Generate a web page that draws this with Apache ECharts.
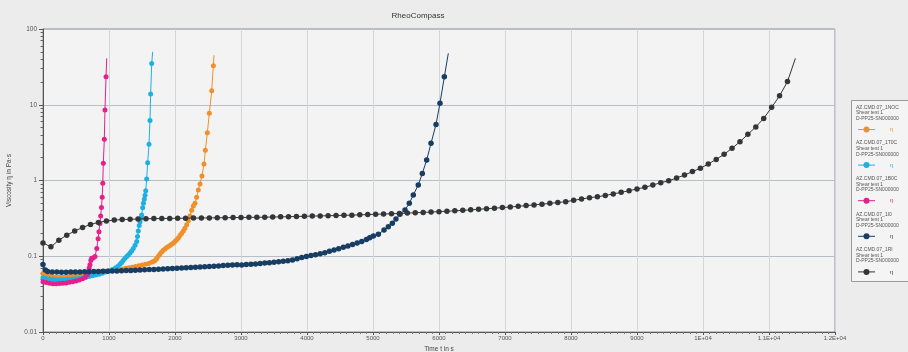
<!DOCTYPE html>
<html>
<head>
<meta charset="utf-8">
<title>RheoCompass</title>
<script src="https://cdn.jsdelivr.net/npm/echarts@6/dist/echarts.min.js"></script>
<style>
  html, body { margin: 0; padding: 0; background: #ececec; }
  #chart { width: 908px; height: 352px; }
</style>
</head>
<body>
<div id="chart"></div>
<script>
// Viscosity curves over time, [time in s, viscosity in Pa·s]
const orange = [
  [0,0.059],[50,0.056],[100,0.0545],[150,0.0535],[200,0.053],[250,0.053],[300,0.053],[350,0.0535],
  [400,0.054],[450,0.055],[500,0.0558],[550,0.0567],[600,0.0576],[650,0.0586],[700,0.0595],[750,0.0603],
  [800,0.061],[850,0.0619],[900,0.0627],[950,0.0636],[1000,0.0644],[1050,0.0653],[1100,0.0662],[1150,0.0671],
  [1200,0.0681],[1250,0.0692],[1300,0.0705],[1350,0.0718],[1400,0.0733],[1450,0.0749],[1500,0.0765],
  [1550,0.0782],[1600,0.08],[1646,0.0835],[1672,0.0855],[1697,0.088],[1722,0.093],[1747,0.1],[1772,0.107],
  [1798,0.114],[1823,0.12],[1848,0.125],[1874,0.13],[1899,0.134],[1924,0.139],[1949,0.144],[1975,0.15],
  [2000,0.157],[2025,0.165],[2050,0.174],[2076,0.188],[2100,0.2],[2126,0.215],[2151,0.234],[2177,0.26],
  [2202,0.295],[2227,0.34],[2253,0.405],[2277,0.46],[2303,0.5],[2328,0.6],[2353,0.75],[2379,0.9],
  [2409,1.15],[2439,1.65],[2460,2.5],[2490,4.27],[2520,7.7],[2556,15.3],[2581,32.8],[2591,45]
];
const cyan = [
  [0,0.052],[50,0.051],[100,0.05],[150,0.0495],[200,0.049],[250,0.049],[300,0.049],[350,0.0492],
  [400,0.0495],[450,0.05],[500,0.0505],[550,0.051],[600,0.052],[650,0.053],[700,0.054],[750,0.0552],
  [800,0.0565],[850,0.058],[900,0.0598],[950,0.0618],[1000,0.064],[1050,0.067],[1100,0.0705],[1140,0.0745],
  [1170,0.079],[1192,0.083],[1215,0.088],[1242,0.094],[1268,0.099],[1293,0.104],[1318,0.11],[1343,0.117],
  [1368,0.127],[1395,0.14],[1420,0.156],[1432,0.182],[1444,0.215],[1458,0.255],[1470,0.286],[1483,0.318],
  [1495,0.35],[1510,0.438],[1522,0.5],[1535,0.565],[1546,0.64],[1556,0.73],[1571,1.05],[1586,1.72],
  [1606,3.0],[1621,6.2],[1631,13.9],[1647,35],[1662,50]
];
const pink = [
  [0,0.046],[50,0.045],[100,0.044],[150,0.0435],[200,0.0435],[250,0.0437],[300,0.044],[350,0.0445],
  [400,0.0452],[450,0.046],[500,0.047],[550,0.0485],[600,0.0505],[640,0.053],[670,0.057],[687,0.0625],
  [700,0.07],[712,0.077],[725,0.088],[737,0.094],[760,0.095],[788,0.099],[815,0.127],[835,0.17],
  [848,0.211],[862,0.27],[874,0.34],[886,0.44],[897,0.6],[906,0.92],[914,1.69],[929,3.5],[939,8.5],
  [955,23.5],[965,41]
];
const navy = [
  [0,0.078],[35,0.066],[70,0.063],[140,0.062],[210,0.0618],[280,0.0617],[350,0.0617],[420,0.0618],
  [490,0.062],[560,0.0621],[630,0.0623],[700,0.0625],[770,0.0627],[840,0.063],[910,0.0632],[980,0.0635],
  [1050,0.0638],[1120,0.0641],[1190,0.0644],[1260,0.0647],[1330,0.065],[1400,0.0654],[1470,0.0658],
  [1540,0.0662],[1610,0.0666],[1680,0.067],[1750,0.0674],[1820,0.0678],[1890,0.0683],[1960,0.0688],
  [2030,0.0693],[2100,0.0698],[2170,0.0703],[2240,0.0709],[2310,0.0715],[2380,0.0721],[2450,0.0727],
  [2520,0.0733],[2590,0.074],[2660,0.0746],[2730,0.0753],[2800,0.076],[2870,0.0767],[2940,0.0775],
  [3010,0.0768],[3080,0.0776],[3150,0.0784],[3220,0.0793],[3290,0.0802],[3360,0.0812],[3430,0.0822],
  [3500,0.0833],[3570,0.0845],[3640,0.0857],[3710,0.087],[3780,0.0895],[3850,0.093],[3920,0.096],
  [3990,0.099],[4060,0.102],[4130,0.105],[4200,0.1075],[4270,0.111],[4340,0.116],[4410,0.121],
  [4480,0.126],[4550,0.131],[4620,0.137],[4690,0.143],[4760,0.15],[4830,0.157],[4900,0.167],
  [4950,0.176],[5005,0.185],[5081,0.195],[5167,0.222],[5232,0.245],[5293,0.272],[5348,0.31],
  [5409,0.358],[5485,0.408],[5550,0.5],[5611,0.644],[5686,0.873],[5747,1.24],[5813,1.86],[5879,3.1],
  [5955,5.5],[6015,10.5],[6081,23.4],[6141,47.7]
];
const gray = [
  [0,0.15],[120,0.133],[240,0.163],[360,0.19],[480,0.215],[600,0.24],[720,0.263],[840,0.28],
  [960,0.292],[1080,0.3],[1200,0.305],[1320,0.308],[1440,0.31],[1560,0.312],[1680,0.314],[1800,0.315],
  [1920,0.316],[2040,0.317],[2160,0.318],[2280,0.319],[2400,0.32],[2520,0.321],[2640,0.322],[2760,0.323],
  [2880,0.324],[3000,0.325],[3120,0.326],[3240,0.327],[3360,0.328],[3480,0.33],[3600,0.331],[3720,0.333],
  [3840,0.335],[3960,0.337],[4080,0.339],[4200,0.341],[4320,0.343],[4440,0.345],[4560,0.347],[4680,0.349],
  [4800,0.352],[4920,0.355],[5040,0.358],[5160,0.361],[5280,0.364],[5400,0.367],[5520,0.371],[5640,0.375],
  [5760,0.379],[5880,0.383],[6000,0.388],[6120,0.393],[6240,0.398],[6360,0.404],[6480,0.41],[6600,0.417],
  [6720,0.424],[6840,0.431],[6960,0.439],[7080,0.447],[7200,0.456],[7320,0.466],[7440,0.476],[7560,0.487],
  [7680,0.499],[7800,0.512],[7920,0.525],[8040,0.547],[8160,0.57],[8280,0.593],[8400,0.61],[8520,0.635],
  [8640,0.664],[8760,0.698],[8880,0.733],[9000,0.773],[9120,0.813],[9240,0.872],[9360,0.935],[9480,0.99],
  [9600,1.08],[9720,1.18],[9840,1.31],[9960,1.45],[10080,1.65],[10200,1.9],[10320,2.22],[10440,2.66],
  [10560,3.25],[10680,4.07],[10800,5.1],[10920,6.6],[11040,9.25],[11160,13.1],[11280,20.2],[11400,41]
];

const seriesData = [orange, cyan, pink, navy, gray];
const seriesColors = ['#f0902a', '#1fb0e2', '#e61f8c', '#173d63', '#333537'];
const sampleNames = ['AZ.CMD.07_1NOC', 'AZ.CMD.07_1T0C', 'AZ.CMD.07_1B0C', 'AZ.CMD.07_1I0', 'AZ.CMD.07_1RI'];
const testName = 'Shear test 1';
const systemName = 'D-PP25-SN000000';

// Axis ticks
const xTicks = [0,1000,2000,3000,4000,5000,6000,7000,8000,9000,10000,11000,12000];
const xTickLabels = ['0','1000','2000','3000','4000','5000','6000','7000','8000','9000','1E+04','1.1E+04','1.2E+04'];
const yMinorTicks = [
  0.02,0.03,0.04,0.05,0.06,0.07,0.08,0.09,
  0.2,0.3,0.4,0.5,0.6,0.7,0.8,0.9,
  2,3,4,5,6,7,8,9,
  20,30,40,50,60,70,80,90
];

const FONT = '"Liberation Sans", Arial, sans-serif';
const chart = echarts.init(document.getElementById('chart'), null, { renderer: 'canvas' });

const series = seriesData.map((pts, k) => ({
  type: 'line',
  name: sampleNames[k],
  // the final reading is drawn as line only
  data: pts.map((p, i) => i === pts.length - 1 ? { value: p, symbol: 'none' } : p),
  showSymbol: true,
  symbol: 'circle',
  symbolSize: k >= 3 ? 5.5 : 5,
  color: seriesColors[k],
  lineStyle: { width: 1, color: seriesColors[k] },
  itemStyle: { color: seriesColors[k] },
  animation: false,
  z: 2 + k
}));

// Legend panel on the right
const legendGraphics = [{
  type: 'rect', shape: { x: 851.5, y: 100.5, width: 70, height: 181 },
  style: { fill: '#f4f4f4', stroke: '#9a9a9a', lineWidth: 1 }, z: 10
}];
sampleNames.forEach((name, k) => {
  const y0 = 105 + k * 35.6;
  [name, testName, systemName].forEach((t, j) => {
    legendGraphics.push({
      type: 'text', x: 856, y: y0 + j * 5.6, z: 11,
      style: { text: t, fill: '#555', font: '5px ' + FONT, textVerticalAlign: 'top' }
    });
  });
  const ly = y0 + 24.5;
  legendGraphics.push(
    { type: 'line', z: 11, shape: { x1: 858, y1: ly, x2: 875, y2: ly }, style: { stroke: seriesColors[k], lineWidth: 1 } },
    { type: 'circle', z: 12, shape: { cx: 866.5, cy: ly, r: 3 }, style: { fill: seriesColors[k] } },
    { type: 'text', z: 11, x: 890, y: ly, style: { text: 'η', fill: seriesColors[k], font: '6px ' + FONT, textVerticalAlign: 'middle' } }
  );
});

const option = {
  backgroundColor: '#ececec',
  animation: false,
  grid: {
    left: 43, right: 73, top: 29, bottom: 20,
    outerBoundsMode: 'none', containLabel: false,
    show: true, backgroundColor: '#f3f3f3', borderColor: '#8d8f93', borderWidth: 1
  },
  xAxis: {
    type: 'value', min: 0, max: 12000, interval: 1000,
    name: 'Time t in s', nameLocation: 'middle', nameGap: 9,
    nameTextStyle: { fontSize: 6.5, color: '#444', fontFamily: FONT },
    axisLine: { lineStyle: { color: '#555', width: 1 } },
    axisTick: { show: true, length: 3, inside: false, lineStyle: { color: '#555' } },
    minorTick: { show: true, splitNumber: 10, length: 2, lineStyle: { color: '#777' } },
    axisLabel: {
      fontSize: 6, color: '#555', fontFamily: FONT, margin: 3,
      formatter: v => xTickLabels[xTicks.indexOf(v)]
    },
    splitLine: { show: true, lineStyle: { color: '#d2d5dc', width: 1 } }
  },
  yAxis: [{
    type: 'log', logBase: 10, min: 0.01, max: 100,
    name: 'Viscosity η in Pa·s', nameLocation: 'middle', nameGap: 30, nameRotate: 90,
    nameTextStyle: { fontSize: 6.5, color: '#444', fontFamily: FONT },
    axisLine: { show: true, lineStyle: { color: '#555', width: 1 } },
    axisTick: { show: true, length: 4, lineStyle: { color: '#555' } },
    axisLabel: {
      fontSize: 6.5, color: '#555', fontFamily: FONT, margin: 6,
      formatter: v => String(v)
    },
    splitLine: { show: true, lineStyle: { color: '#b9bdc5', width: 1 } }
  }, {
    type: 'log', logBase: 10, min: 0.01, max: 100, position: 'left',
    axisLine: { show: false },
    axisLabel: { show: false },
    splitLine: { show: false },
    axisTick: { show: true, length: 2.5, customValues: yMinorTicks, lineStyle: { color: '#666' } }
  }],
  series: series,
  graphic: [{
    type: 'text', x: 418, y: 16, z: 10,
    style: { text: 'RheoCompass', fill: '#333', font: '8px ' + FONT, textAlign: 'center', textVerticalAlign: 'middle' }
  }].concat(legendGraphics)
};

chart.setOption(option);
</script>
</body>
</html>
